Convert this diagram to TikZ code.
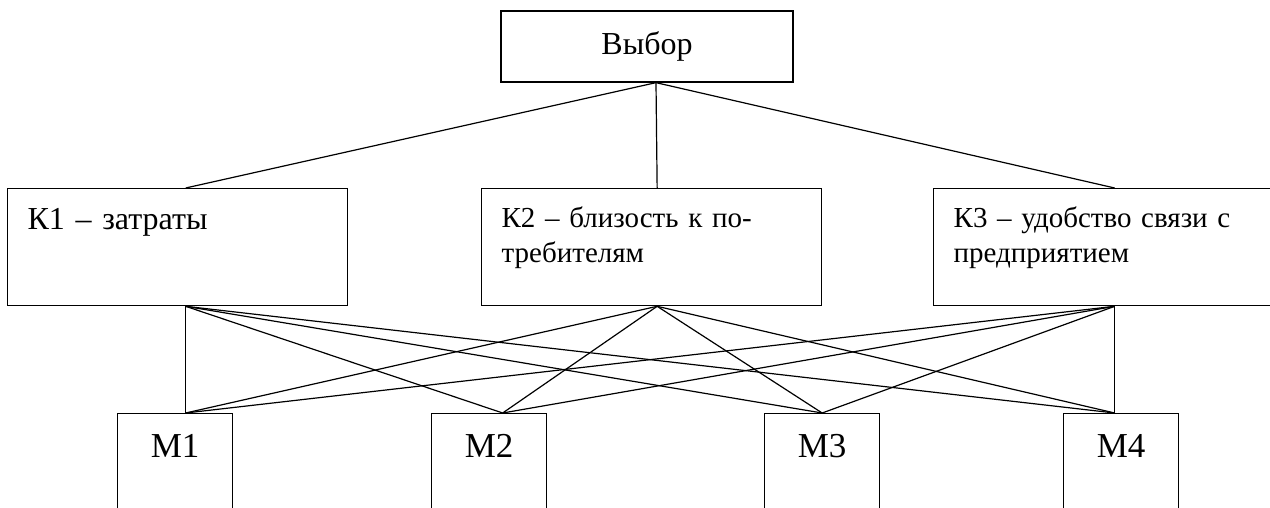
\documentclass[tikz,border=0pt]{standalone}
\usepackage{fontspec}
\setmainfont{Liberation Serif}
\usepackage{tikz}
\usetikzlibrary{positioning}

\begin{document}
\begin{tikzpicture}[
    x=1pt, y=-1pt,
    font=\fontsize{32}{38}\selectfont,
    box/.style={draw, line width=1.3pt, inner sep=0pt},
    crit/.style={box, anchor=north west, text width=300pt, inner xsep=20pt, align=left, text height=41pt, text depth=76pt},
    small/.style={font=\fontsize{29}{35}\selectfont, text height=39pt, text depth=78pt},
    alt/.style={box, anchor=north west, minimum width=115pt, font=\fontsize{35}{40}\selectfont, text height=44pt, text depth=73pt},
    link/.style={line width=1.2pt}
  ]
    \useasboundingbox (0,0) rectangle (1270,508);
    \clip (0,0) rectangle (1270,508);

    % Goal
    \node[box, minimum width=292pt, minimum height=71pt] (top) at (647,46.5) {Выбор};

    % Criteria
    \node[crit] (k1) at (7,188) {К1 – затраты};
    \node[crit, small] (k2) at (481,188) {К2 – близость к по-\\требителям};
    \node[crit, small] (k3) at (933,188) {К3 – удобство связи с\\предприятием};

    % Alternatives
    \node[alt] (m1) at (117,413) {М1};
    \node[alt] (m2) at (431,413) {М2};
    \node[alt] (m3) at (764,413) {М3};
    \node[alt] (m4) at (1063,413) {М4};

    % Ports
    \coordinate (top-out) at ([xshift=9pt]top.south);
    \foreach \k/\s in {1/8,2/5.5,3/11} {
      \coordinate (k\k-in) at ([xshift=\s pt]k\k.north);
      \coordinate (k\k-out) at ([xshift=\s pt]k\k.south);
    }
    \foreach \m/\s in {1/10.5,2/13.5,3/0,4/-6.5}
      \coordinate (m\m-in) at ([xshift=\s pt]m\m.north);

    % Links
    \foreach \k in {1,2,3}
      \draw[link] (top-out) -- (k\k-in);
    \foreach \k in {1,2,3}
      \foreach \m in {1,...,4}
        \draw[link] (k\k-out) -- (m\m-in);
  \end{tikzpicture}
\end{document}
